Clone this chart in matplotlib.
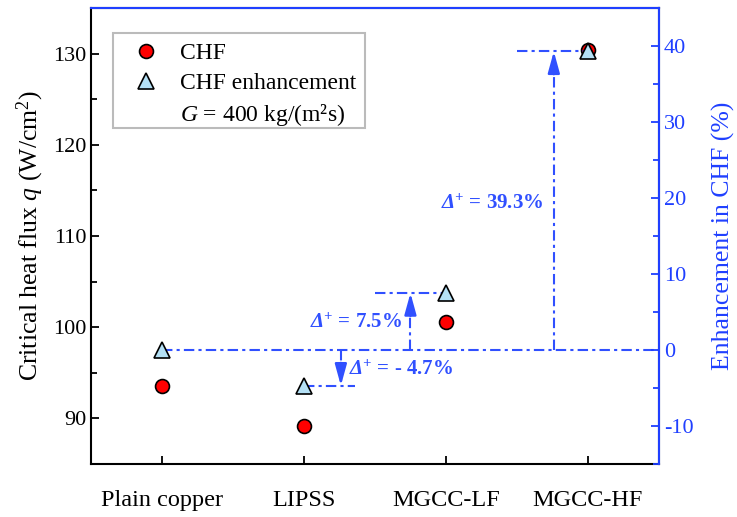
import numpy as np
import matplotlib.pyplot as plt
from matplotlib.lines import Line2D
from matplotlib.patches import Rectangle

# data
samples = ['Plain copper', 'LIPSS', 'MGCC-LF', 'MGCC-HF']
chf = [93.6, 89.2, 100.6, 130.4]          # W/cm2
enh = [0.0, -4.7, 7.5, 39.3]              # %
delta_labels = ['- 4.7%', '7.5%', '39.3%']

plt.rcParams['font.family'] = ['Liberation Serif', 'DejaVu Serif']
plt.rcParams['mathtext.fontset'] = 'custom'
plt.rcParams['mathtext.rm'] = 'Liberation Serif'
plt.rcParams['mathtext.it'] = 'Liberation Serif:italic'
plt.rcParams['mathtext.bf'] = 'Liberation Serif:bold:italic'
plt.rcParams['axes.unicode_minus'] = False
plt.rcParams['font.size'] = 16

blue = '#1f3fff'
ablue = '#3050ff'

fig, ax = plt.subplots(figsize=(7.37, 5.17), dpi=100)
fig.subplots_adjust(left=0.1235, right=0.894, top=0.9845, bottom=0.1025)
ax2 = ax.twinx()

x = np.arange(1, len(samples) + 1)

ax.plot(x, chf, 'o', ms=10, mfc='#ff0000', mec='k', mew=1.2, zorder=3)
ax.set_xlim(0.5, 4.5)
ax.set_ylim(85, 135)
ax.set_yticks(np.arange(90, 131, 10))
ax.set_yticks(np.arange(85, 135, 5), minor=True)
ax.set_xticks(x)
ax.set_xticklabels(samples, fontsize=17.5)
ax.set_ylabel('Critical heat flux $q$ (W/cm$^2$)', fontsize=18.5, labelpad=5)
ax.tick_params(axis='both', which='major', direction='in', length=6, width=1.3)
ax.tick_params(axis='y', which='minor', direction='in', length=4, width=1.3)
ax.tick_params(axis='x', pad=19)
for s in ax.spines.values():
    s.set_linewidth(1.5)

# right axis, enhancement
ax2.set_ylim(-15, 45)
ax2.set_yticks(np.arange(-10, 41, 10))
ax2.set_yticks(np.arange(-15, 45, 5), minor=True)
ax2.tick_params(axis='y', which='major', direction='in', length=6, width=1.3, colors=blue)
ax2.tick_params(axis='y', which='minor', direction='in', length=4, width=1.3, colors=blue)
ax2.set_ylabel('Enhancement in CHF (%)', color=blue, fontsize=18.5, labelpad=13)
for k, s in ax2.spines.items():
    s.set_linewidth(1.5)
ax2.spines['right'].set_color(blue)
ax2.spines['top'].set_color(blue)
ax2.spines['left'].set_visible(False)
ax2.spines['bottom'].set_visible(False)

dd = (0, (5, 2, 1.5, 2))
lw = 1.5
# zero line
ax2.plot([1.0, 4.5], [enh[0], enh[0]], color=ablue, ls=dd, lw=lw, zorder=1)

# arrows and levels
h_from = [2.0, 2.5, 3.5]
h_to = [2.36, 3.0, 4.0]
ax_x = [2.26, 2.75, 3.76]
txt_x = [2.32, 2.69, 3.69]
txt_y = [-2.6, 3.6, 19.2]
txt_ha = ['left', 'right', 'right']
for i in range(3):
    v = enh[i + 1]
    ax2.plot([h_from[i], h_to[i]], [v, v], color=ablue, ls=dd, lw=lw, zorder=1)
    sgn = np.sign(v)
    ax2.plot([ax_x[i], ax_x[i]], [0, v - sgn * 1.5], color=ablue, ls=dd, lw=lw, zorder=1)
    ax2.annotate('', xy=(ax_x[i], v), xytext=(ax_x[i], v - sgn * 3.0),
                 arrowprops=dict(arrowstyle='-|>,head_length=0.8,head_width=0.22',
                                 color=ablue, lw=1.8, shrinkA=0, shrinkB=0))
    ax2.text(txt_x[i], txt_y[i], r'$\mathbf{\Delta^{+}}$ = ' + delta_labels[i],
             color=ablue, fontsize=15, fontweight='bold', ha=txt_ha[i], va='center')

ax2.plot(x, enh, '^', ms=11, mfc='#b4e0f5', mec='k', mew=1.2, zorder=4)

# legend (frame drawn separately so it fits the rows tightly)
ax2.add_patch(Rectangle((0.0387, 0.7368), 0.4437, 0.2084, transform=ax2.transAxes,
                        facecolor='white', edgecolor='#bbbbbb', lw=1.5, zorder=5))
handles = [Line2D([], [], ls='none', marker='o', ms=10, mfc='#ff0000', mec='k', mew=1.2),
           Line2D([], [], ls='none', marker='^', ms=11, mfc='#b4e0f5', mec='k', mew=1.2),
           Line2D([], [], ls='none')]
labels = ['CHF', 'CHF enhancement', '$G$ = 400 kg/(m²s)']
leg = ax2.legend(handles, labels, loc='upper left', bbox_to_anchor=(0.039, 0.945),
                 borderaxespad=0, frameon=False,
                 borderpad=0.4, handlelength=2.0, handletextpad=0.45,
                 labelspacing=0.35, fontsize=17)
leg.set_zorder(6)

fig.savefig('out.png', dpi=100)
